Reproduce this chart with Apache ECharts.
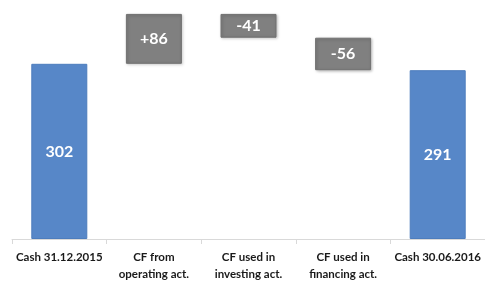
<!DOCTYPE html>
<html><head><meta charset="utf-8">
<script src="https://cdn.jsdelivr.net/npm/echarts@6/dist/echarts.min.js"></script>
<style>html,body{margin:0;padding:0;background:#fff}#c{width:485px;height:283px}</style>
</head><body><div id="c"></div>
<script>
const categories = ['Cash 31.12.2015', 'CF from\noperating act.', 'CF used in\ninvesting act.', 'CF used in\nfinancing act.', 'Cash 30.06.2016'];
const startCash = 302;
const changes = [86, -41, -56];
const endCash = 291;
const labels = ['302', '+86', '-41', '-56', '291'];

const base = [], vals = [];
base.push(0); vals.push(startCash);
let run = startCash;
changes.forEach(c => {
  const next = run + c;
  base.push(Math.min(run, next));
  vals.push(Math.abs(c));
  run = next;
});
base.push(0); vals.push(endCash);

const blue = '#5787c8', gray = '#808080';
const barData = vals.map((v, i) => {
  const isTotal = (i === 0 || i === vals.length - 1);
  return {
    value: v,
    itemStyle: isTotal
      ? { color: blue, borderColor: '#4d7dbd', borderWidth: 1 }
      : { color: gray, borderColor: '#727272', borderWidth: 1, shadowColor: 'rgba(0,0,0,0.25)', shadowBlur: 3, shadowOffsetX: 1, shadowOffsetY: 1 },
    label: { formatter: labels[i] }
  };
});

const chart = echarts.init(document.getElementById('c'), null, { renderer: 'canvas' });
chart.setOption({
  animation: false,
  grid: { left: 12, right: 0, top: 0, bottom: 40, containLabel: false },
  xAxis: {
    type: 'category',
    data: categories,
    axisLine: { show: true, lineStyle: { color: '#d9d9d9', width: 1 } },
    axisTick: { show: true, alignWithLabel: false, length: 5, lineStyle: { color: '#d9d9d9' } },
    axisLabel: {
      interval: 0, color: '#1a1a1a', fontFamily: 'Lato, "Open Sans", sans-serif', fontWeight: 'bold',
      fontSize: 11.5, lineHeight: 17, margin: 10
    }
  },
  yAxis: { type: 'value', min: 0, max: 412, show: false, splitLine: { show: false } },
  series: [
    { type: 'bar', stack: 'w', data: base, barWidth: 56, itemStyle: { color: 'transparent' }, silent: true },
    {
      type: 'bar', stack: 'w', data: barData, barWidth: 56,
      label: { show: true, position: 'inside', color: '#fff', fontWeight: 'bold', fontSize: 16, fontFamily: 'Lato, "Open Sans", sans-serif' }
    }
  ]
});
</script></body></html>
